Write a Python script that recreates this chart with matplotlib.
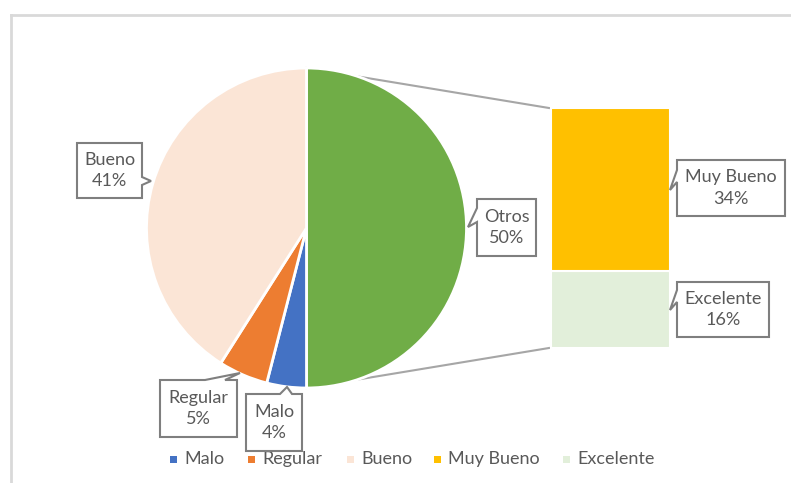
import matplotlib
matplotlib.use("Agg")
import matplotlib.pyplot as plt
from matplotlib.patches import Polygon, Rectangle

plt.rcParams['font.family'] = ['Lato', 'DejaVu Sans']

# ---- data ----
pie_labels = ["Otros", "Malo", "Regular", "Bueno"]
pie_values = [50, 4, 5, 41]
pie_colors = ["#70AD47", "#4472C4", "#ED7D31", "#FBE5D6"]

bar_labels = ["Excelente", "Muy Bueno"]
bar_values = [16, 34]
bar_colors = ["#E2EFDA", "#FFC000"]

legend_labels = ["Malo", "Regular", "Bueno", "Muy Bueno", "Excelente"]
legend_colors = ["#4472C4", "#ED7D31", "#FBE5D6", "#FFC000", "#E2EFDA"]

W, H = 791, 483
fig = plt.figure(figsize=(W / 100, H / 100), dpi=100)
ax = fig.add_axes([0, 0, 1, 1])

def Y(y):  # pixel (top-down) -> data
    return H - y

TXT = "#595959"
EDGE = "#7F7F7F"
FS = 13

# frame (top and left)
ax.plot([11, W], [Y(15), Y(15)], color="#D9D9D9", lw=2, zorder=0)
ax.plot([11, 11], [Y(15), Y(483)], color="#D9D9D9", lw=2, zorder=0)

# pie
cx, cy, r = 306.5, 228, 160
ax.pie(pie_values, colors=pie_colors, startangle=90, counterclock=False,
       center=(cx, Y(cy)), radius=r, frame=True,
       wedgeprops=dict(edgecolor="white", linewidth=2))
ax.set_xlim(0, W)
ax.set_ylim(0, H)
ax.set_aspect("equal")
ax.axis("off")

# bar (stacked)
bx0, bx1 = 551, 670
btop, bbot = 108, 348
scale = (bbot - btop) / sum(bar_values)
bottom = Y(bbot)
for v, c in zip(bar_values, bar_colors):
    ax.bar((bx0 + bx1) / 2, v * scale, width=bx1 - bx0, bottom=bottom,
           color=c, edgecolor="white", linewidth=1.5, zorder=2)
    bottom += v * scale

# connector lines
ax.plot([cx, bx0 - 2], [Y(cy - r), Y(btop)], color="#A6A6A6", lw=1.5, zorder=0)
ax.plot([cx, bx0 - 2], [Y(cy + r), Y(bbot)], color="#A6A6A6", lw=1.5, zorder=0)

# callout helper
def callout(box, side, base, tip, text):
    x0, y0, x1, y1 = box
    a, b = base
    tx, ty = tip
    if side == "left":
        pts = [(x0, y0), (x1, y0), (x1, y1), (x0, y1), (x0, b), (tx, ty), (x0, a)]
    elif side == "right":
        pts = [(x0, y0), (x1, y0), (x1, a), (tx, ty), (x1, b), (x1, y1), (x0, y1)]
    else:  # top
        pts = [(x0, y0), (a, y0), (tx, ty), (b, y0), (x1, y0), (x1, y1), (x0, y1)]
    poly = Polygon([(px, Y(py)) for px, py in pts], closed=True,
                   facecolor="white", edgecolor=EDGE, lw=1.5, zorder=5)
    ax.add_patch(poly)
    ax.text((x0 + x1) / 2, Y((y0 + y1) / 2), text, ha="center", va="center",
            fontsize=FS, color=TXT, zorder=6, linespacing=1.4)

pct = dict(zip(pie_labels + bar_labels, pie_values + bar_values))

callout((77, 143, 142, 198), "right", (177, 185), (151, 181), f"Bueno\n{pct['Bueno']}%")
callout((477, 199, 536, 256), "left", (208, 222), (468, 227), f"Otros\n{pct['Otros']}%")
callout((677, 160, 785, 216), "left", (170, 182), (670, 190), f"Muy Bueno\n{pct['Muy Bueno']}%")
callout((677, 282, 769, 337), "left", (290, 302), (670, 310), f"Excelente\n{pct['Excelente']}%")
callout((160, 380, 237, 437), "top", (205, 225), (240, 373), f"Regular\n{pct['Regular']}%")
callout((246, 394, 302, 451), "top", (280, 292), (287, 387), f"Malo\n{pct['Malo']}%")

# legend
leg_x = [170, 248, 347, 434, 563]
ly = 459
for x, lab, c in zip(leg_x, legend_labels, legend_colors):
    ax.add_patch(Rectangle((x, Y(ly) - 3.5), 7, 7, facecolor=c, edgecolor="none", zorder=5))
    ax.text(x + 14, Y(ly), lab, ha="left", va="center", fontsize=FS, color=TXT)

fig.savefig("out.png", dpi=100)
